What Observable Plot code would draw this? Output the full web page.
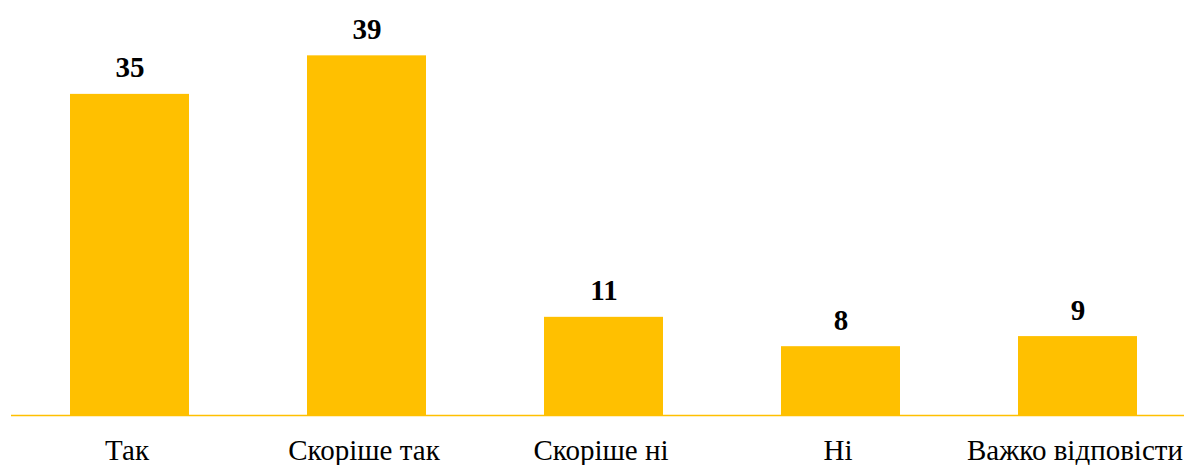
<!DOCTYPE html>
<html>
<head>
<meta charset="utf-8">
<script src="https://cdn.jsdelivr.net/npm/d3@7"></script>
<script src="https://cdn.jsdelivr.net/npm/@observablehq/plot@0.6"></script>
<style>
  html, body { margin: 0; padding: 0; background: #fff; }
  #chart svg { display: block; overflow: visible; }
  #chart svg text { font-family: 'Liberation Serif', 'Times New Roman', serif !important; }
</style>
</head>
<body>
<div id="chart"></div>
<script>
const categories = ["Так", "Скоріше так", "Скоріше ні", "Ні", "Важко відповісти"];
const values = [35, 39.2, 10.7, 7.5, 8.6];
const labels = ["35", "39", "11", "8", "9"];

const data = categories.map((c, i) => ({category: c, value: values[i], label: labels[i]}));

const barColor = "#FFC000";
const font = "'Liberation Serif', 'Times New Roman', serif";

const chart = Plot.plot({
  width: 1184,
  height: 465,
  marginLeft: 11,
  marginRight: 0,
  marginTop: 48,
  marginBottom: 50,
  style: {fontFamily: font, background: "#fff", color: "#000"},
  x: {domain: categories, range: [11, 1196], paddingInner: 0.5, paddingOuter: 0.25, label: null, axis: null},
  y: {domain: [0, 40], axis: null},
  marks: [
    Plot.barY(data, {x: "category", y: "value", fill: barColor}),
    Plot.ruleY([0], {stroke: barColor, strokeWidth: 1.5}),
    Plot.text(data, {x: "category", y: "value", text: "label", dy: -17, lineAnchor: "bottom",
      fontSize: 29, fontWeight: "bold", fill: "#000", fontFamily: font}),
    Plot.text(categories, {x: d => d, text: d => d, frameAnchor: "bottom", lineAnchor: "top", dy: 24, dx: -3,
      fontSize: 29, fill: "#000", fontFamily: font})
  ]
});
document.getElementById("chart").appendChild(chart);
</script>
</body>
</html>
